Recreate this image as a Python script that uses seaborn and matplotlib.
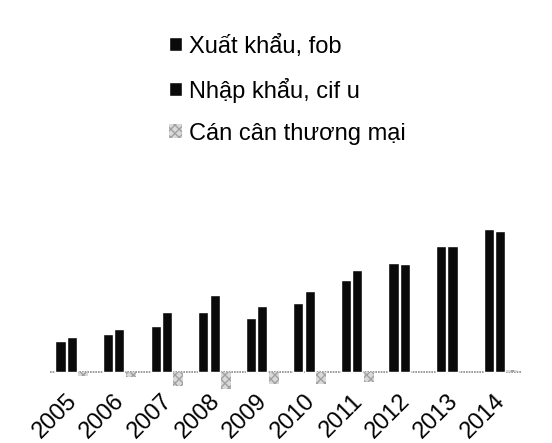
import pandas as pd
import matplotlib
matplotlib.use("Agg")
import matplotlib.pyplot as plt
import matplotlib.transforms as mtransforms
import seaborn as sns
from matplotlib.patches import Patch

# Vietnam trade, billion USD
years = ["2005", "2006", "2007", "2008", "2009", "2010", "2011", "2012", "2013", "2014"]
exports = [32.4, 39.8, 48.6, 62.7, 57.1, 72.2, 96.9, 114.5, 132.0, 150.0]
imports = [36.8, 44.9, 62.8, 80.7, 69.9, 84.8, 106.7, 113.8, 132.0, 147.8]
balance = [-4.4, -5.1, -14.2, -18.0, -12.8, -12.6, -9.8, 0.7, 0.0, 2.0]
series = ["Xuất khẩu, fob", "Nhập khẩu, cif u", "Cán cân thương mại"]

df = pd.DataFrame({
    "year": years * 3,
    "value": exports + imports + balance,
    "series": [series[0]] * 10 + [series[1]] * 10 + [series[2]] * 10,
})

sns.set_theme(style="white")
plt.rcParams["font.family"] = ["Liberation Sans", "DejaVu Sans"]
plt.rcParams["text.color"] = "black"
plt.rcParams["xtick.color"] = "black"

colors = ["#0a0a0a", "#0a0a0a", "#d9d9d9"]

fig = plt.figure(figsize=(5.52, 4.43), dpi=100)
ax = fig.add_axes([0.0906, 0.108, 0.855, 0.847])

sns.barplot(data=df, x="year", y="value", hue="series", palette=colors,
            width=0.72, gap=0.12, legend=False, ax=ax)

# hatch the trade balance bars
for p in ax.containers[2]:
    p.set_hatch("xxxx")
    p.set_edgecolor("#a0a0a0")
    p.set_linewidth(0)

ax.axhline(0, color="#8a8a8a", lw=1.2, ls=(0, (1, 0.6)), zorder=0)

ax.set_ylim(-24, 369)
ax.set_xlim(-0.46, 9.46)
ax.set_xlabel("")
ax.set_ylabel("")
ax.set_yticks([])
sns.despine(ax=ax, left=True, bottom=True)
ax.tick_params(axis="x", length=0, pad=0, labelcolor="black")
shift = mtransforms.ScaledTranslation(-6 / 100, 5 / 100, fig.dpi_scale_trans)
for lab in ax.get_xticklabels():
    lab.set_rotation(45)
    lab.set_ha("right")
    lab.set_rotation_mode("anchor")
    lab.set_fontsize(17)
    lab.set_transform(lab.get_transform() + shift)

handles = [
    Patch(facecolor=colors[0]),
    Patch(facecolor=colors[1]),
    Patch(facecolor=colors[2], hatch="xxxx", edgecolor="#a0a0a0", lw=0),
]
leg = fig.legend(handles, series, loc="upper left", bbox_to_anchor=(0.267, 0.97),
                 frameon=False, fontsize=17, handlelength=0.55, handleheight=0.55,
                 handletextpad=0.3, labelspacing=0.85)
for t in leg.get_texts():
    t.set_color("black")

fig.savefig("out.png", dpi=100)
